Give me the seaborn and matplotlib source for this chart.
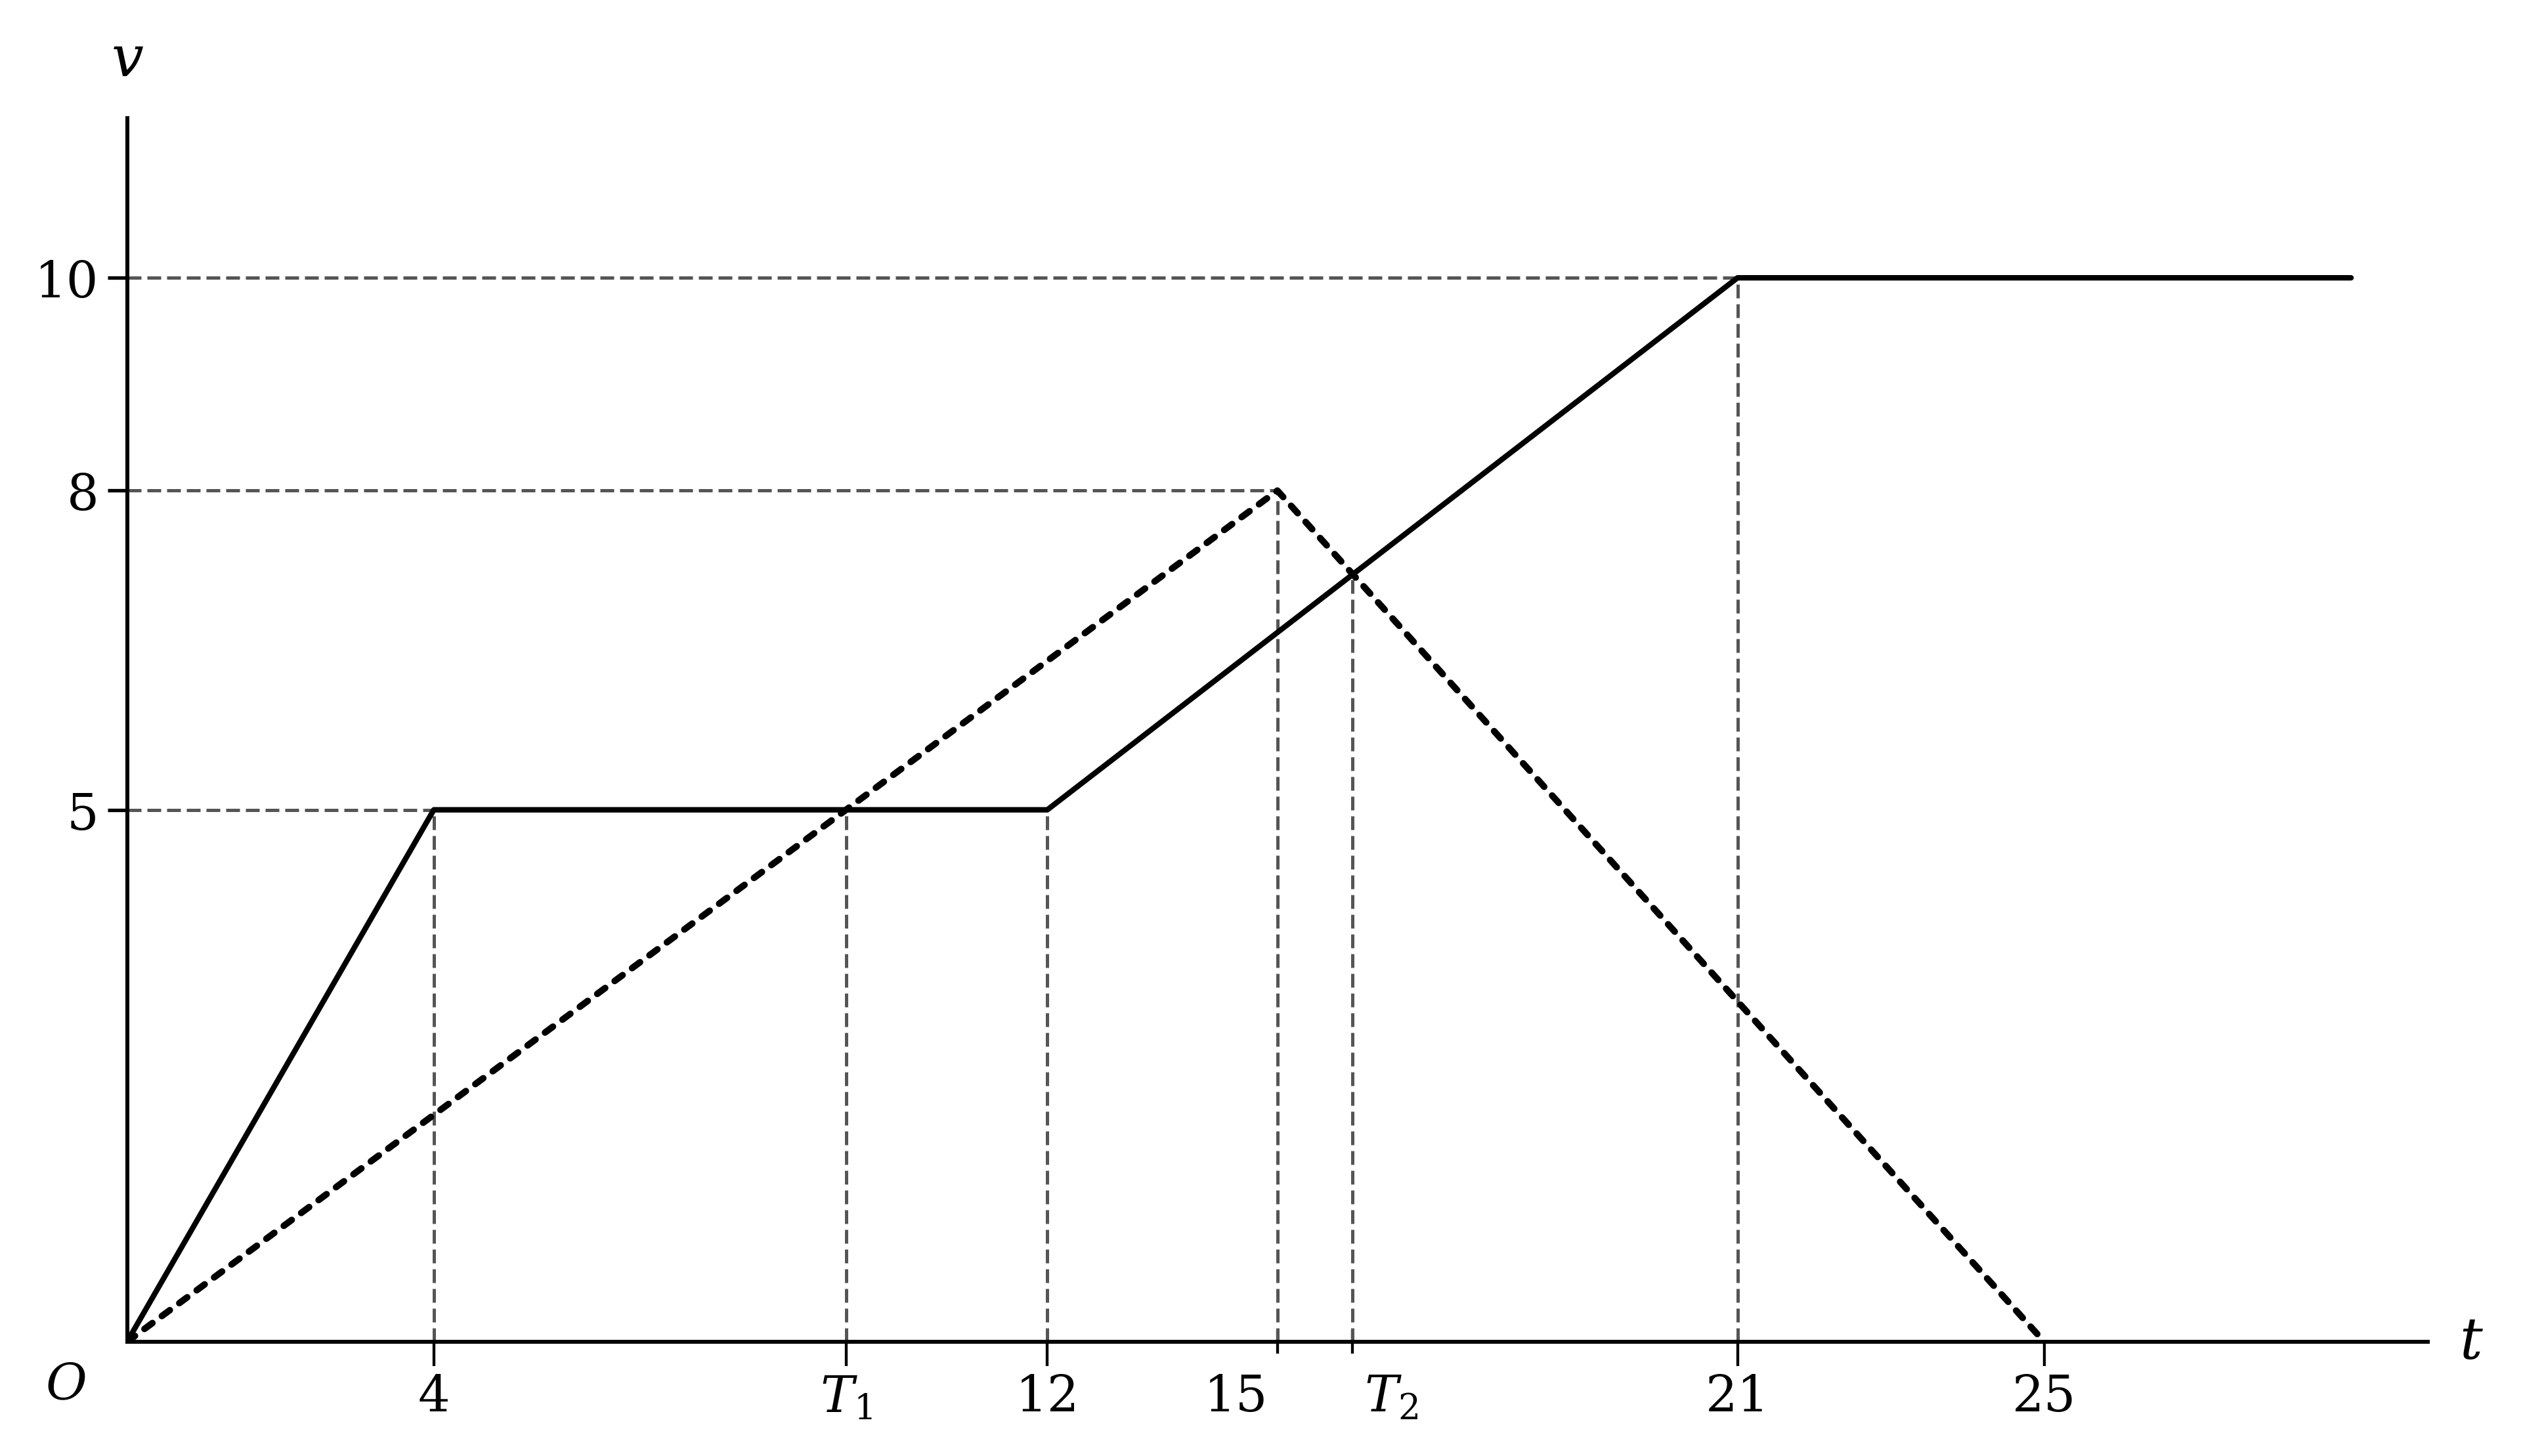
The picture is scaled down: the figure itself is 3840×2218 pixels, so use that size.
import numpy as np
import pandas as pd
import matplotlib
matplotlib.use("Agg")
import matplotlib.pyplot as plt
import matplotlib.transforms as mtransforms
import seaborn as sns

# solid curve (vehicle 1) and dotted curve (vehicle 2)
solid_t = [0, 4, 12, 21, 29]
solid_v = [0, 5, 5, 10, 10]
dotted_t = [0, 15, 25]
dotted_v = [0, 8, 0]

# special times: T1 (dotted reaches 5), T2 (curves cross)
T1 = 75 / 8
T2 = 15.98
v_T2 = 7.21

x_major = [4, T1, 12, 21, 25]
x_major_labels = ["4", "$T_1$", "12", "21", "25"]
x_minor = [15, T2]
y_ticks = [5, 8, 10]

# guide lines (dashed grey): horizontals (y, x_end) and verticals (x, y_end)
h_guides = [(5, 4), (8, 15), (10, 21)]
v_guides = [(4, 5), (T1, 5), (12, 5), (15, 8), (T2, v_T2), (21, 10)]

sns.set_style("ticks", {"axes.edgecolor": "black", "text.color": "black",
                        "xtick.color": "black", "ytick.color": "black",
                        "axes.labelcolor": "black"})
plt.rcParams['font.family'] = ['DejaVu Serif']
plt.rcParams['mathtext.fontset'] = 'dejavuserif'

fig = plt.figure(figsize=(16, 9.2458), dpi=240)
ax = fig.add_axes([0.0504, 0.0784, 0.9126, 0.84])

grey = "#555555"
for y, xe in h_guides:
    ax.plot([0, xe], [y, y], color=grey, linewidth=1.5, dashes=(4.2, 1.8), zorder=1)
for x, ye in v_guides:
    ax.plot([x, x], [0, ye], color=grey, linewidth=1.5, dashes=(4.2, 1.8), zorder=1)

df_solid = pd.DataFrame({"t": solid_t, "v": solid_v})
df_dot = pd.DataFrame({"t": dotted_t, "v": dotted_v})
sns.lineplot(data=df_solid, x="t", y="v", ax=ax, color="black", linewidth=2.5,
             sort=False, estimator=None, zorder=3)
sns.lineplot(data=df_dot, x="t", y="v", ax=ax, color="black", linewidth=3.0,
             sort=False, estimator=None, zorder=3)
dl = ax.lines[-1]
dl.set_linewidth(3.0)
dl.set_dashes((1.5, 1.8))
dl.set_dash_capstyle("round")
ax.lines[-2].set_linewidth(2.5)

ax.set_xlim(0, 30)
ax.set_ylim(0, 11.5)
sns.despine(ax=ax)
ax.spines['left'].set_linewidth(1.8)
ax.spines['bottom'].set_linewidth(1.8)

ax.set_xticks(x_major, x_major_labels)
ax.set_xticks(x_minor, ["", ""], minor=True)
ax.set_yticks(y_ticks, [str(v) for v in y_ticks])
ax.tick_params(axis='x', which='major', direction='out', length=11, width=1.3,
               pad=3, labelsize=23, colors='black')
ax.tick_params(axis='x', which='minor', direction='inout', length=11, width=1.3,
               colors='black')
ax.tick_params(axis='y', direction='out', length=9, width=1.6, pad=4,
               labelsize=23, colors='black')
ax.set_xlabel("")
ax.set_ylabel("")

trans = mtransforms.blended_transform_factory(ax.transData, ax.transAxes)
off = mtransforms.ScaledTranslation(0, -14 / 72, fig.dpi_scale_trans)
ax.text(14.46, 0, "15", transform=trans + off, ha='center', va='top',
        fontsize=23, color='black')
ax.text(16.48, 0, "$T_2$", transform=trans + off, ha='center', va='top',
        fontsize=23, color='black')

ax.text(-0.8, -0.41, "$O$", ha='center', va='center', fontsize=23,
        clip_on=False, color='black')
ax.text(0, 12.05, "$v$", ha='center', va='center', fontsize=26, clip_on=False,
        color='black')
ax.text(30.57, 0, "$t$", ha='center', va='center', fontsize=26, clip_on=False,
        color='black')

fig.savefig("out.png", dpi=240)
